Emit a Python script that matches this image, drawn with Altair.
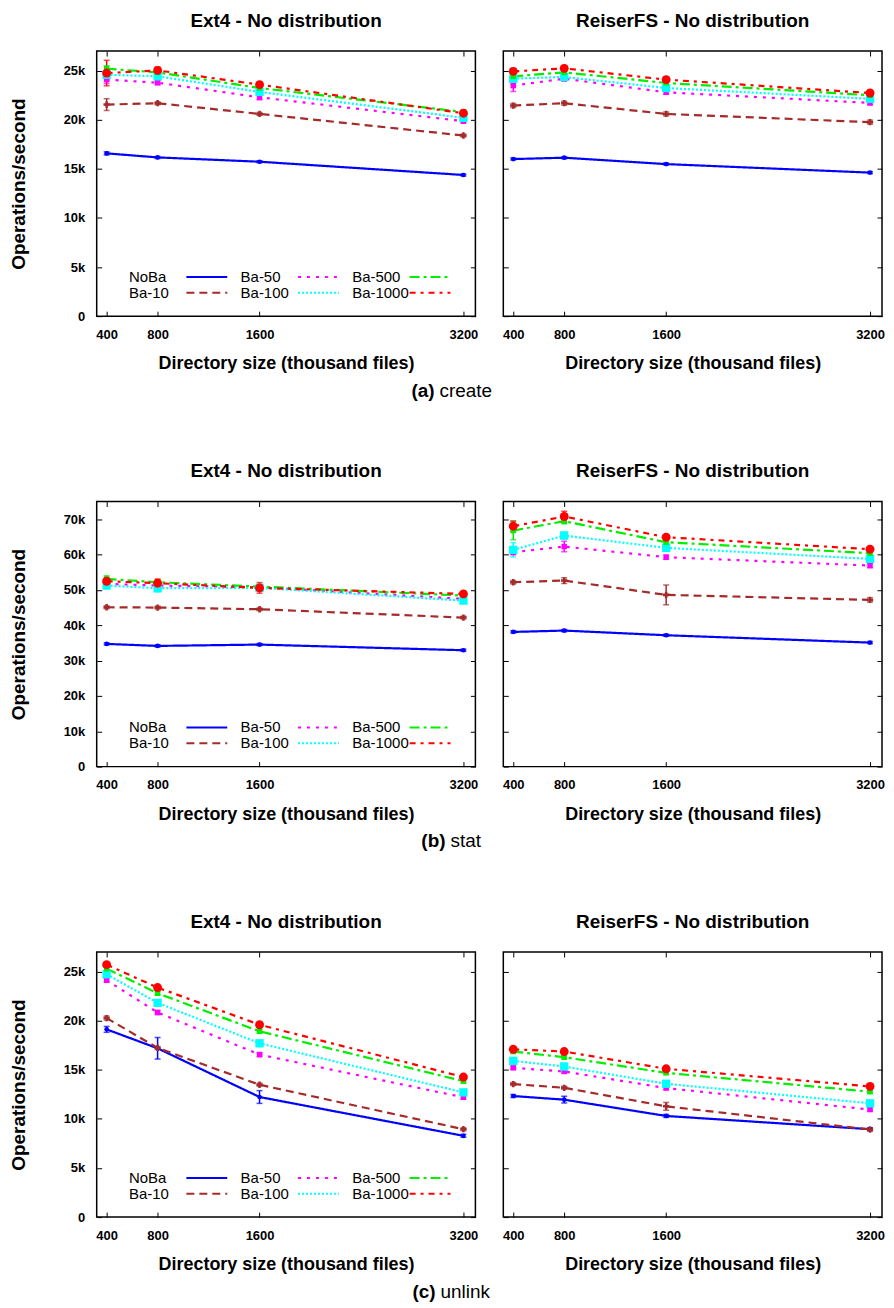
import altair as alt
import pandas as pd

# ---------------- data ----------------
SERIES = ["NoBa", "Ba-10", "Ba-50", "Ba-100", "Ba-500", "Ba-1000"]
LEGEND_ORDER = ["NoBa", "Ba-50", "Ba-500", "Ba-10", "Ba-100", "Ba-1000"]
DIR_SIZES = [400, 800, 1600, 3200]

create_ext4 = [
    [16580, 16170, 15730, 14380],
    [21550, 21690, 20600, 18400],
    [24090, 23780, 22290, 19860],
    [24590, 24430, 22840, 20200],
    [25200, 24830, 23240, 20800],
    [24760, 25030, 23580, 20670],
]
create_ext4_err = [
    [150, 100, 100, 100],
    [600, 150, 150, 150],
    [400, 200, 250, 150],
    [350, 250, 250, 150],
    [300, 200, 200, 150],
    [1300, 350, 250, 200],
]
create_reiser = [
    [16000, 16140, 15490, 14620],
    [21450, 21690, 20600, 19760],
    [23480, 24190, 22800, 21720],
    [24190, 24360, 23240, 22130],
    [24430, 24830, 23750, 22500],
    [24930, 25240, 24090, 22730],
]
create_reiser_err = [
    [100, 100, 100, 100],
    [200, 200, 200, 200],
    [600, 250, 200, 200],
    [400, 300, 200, 200],
    [700, 200, 200, 200],
    [300, 300, 250, 250],
]
stat_ext4 = [
    [34720, 34150, 34530, 32930],
    [45090, 45000, 44530, 42170],
    [51700, 51230, 50760, 47450],
    [51230, 50470, 50570, 46980],
    [53110, 52170, 50940, 48400],
    [52450, 51890, 50570, 48870],
]
stat_ext4_err = [
    [300, 300, 300, 300],
    [400, 400, 400, 400],
    [500, 500, 500, 500],
    [600, 1000, 500, 500],
    [900, 600, 600, 500],
    [800, 1200, 1500, 600],
]
stat_reiser = [
    [38110, 38490, 37170, 35090],
    [52170, 52640, 48590, 47170],
    [60660, 62260, 59250, 56890],
    [61320, 65380, 61890, 58770],
    [66790, 69430, 63490, 60380],
    [68020, 70760, 64910, 61510],
]
stat_reiser_err = [
    [300, 300, 300, 300],
    [500, 800, 2800, 600],
    [700, 1500, 600, 600],
    [2000, 1000, 600, 600],
    [2600, 700, 600, 600],
    [1500, 1500, 700, 600],
]
unlink_ext4 = [
    [19120, 17190, 12230, 8280],
    [20270, 17230, 13480, 8950],
    [24120, 20840, 16550, 12200],
    [24730, 21820, 17700, 12700],
    [25300, 22800, 18920, 13850],
    [25710, 23380, 19590, 14260],
]
unlink_ext4_err = [
    [300, 1100, 650, 150],
    [200, 150, 150, 150],
    [200, 200, 200, 200],
    [200, 200, 200, 200],
    [200, 200, 200, 200],
    [200, 200, 200, 200],
]
unlink_reiser = [
    [12330, 11960, 10300, 8950],
    [13550, 13170, 11280, 8920],
    [15200, 14830, 13140, 10950],
    [15910, 15340, 13580, 11590],
    [16860, 16280, 14690, 12770],
    [17090, 16860, 15100, 13310],
]
unlink_reiser_err = [
    [150, 350, 150, 150],
    [150, 150, 400, 150],
    [150, 150, 150, 150],
    [150, 150, 150, 150],
    [150, 150, 150, 150],
    [150, 150, 150, 150],
]

PANEL_TITLES = ["Ext4 - No distribution", "ReiserFS - No distribution"]
CAPTION_TAGS = ["(a)", "(b)", "(c)"]
CAPTION_OPS = ["create", "stat", "unlink"]
YMAX = [27000, 75000, 27000]
YTICKS = [
    [0, 5000, 10000, 15000, 20000, 25000],
    [0, 10000, 20000, 30000, 40000, 50000, 60000, 70000],
    [0, 5000, 10000, 15000, 20000, 25000],
]
ROWS = [
    ((create_ext4, create_ext4_err), (create_reiser, create_reiser_err)),
    ((stat_ext4, stat_ext4_err), (stat_reiser, stat_reiser_err)),
    ((unlink_ext4, unlink_ext4_err), (unlink_reiser, unlink_reiser_err)),
]

# ---------------- styles ----------------
FONT = "Liberation Sans, Arial, Helvetica, sans-serif"
COLOR = {"NoBa": "#0000ff", "Ba-10": "#a52a2a", "Ba-50": "#ff00ff",
         "Ba-100": "#00ffff", "Ba-500": "#00ee00", "Ba-1000": "#ff0000"}
DASH = {"NoBa": [1, 0], "Ba-10": [8, 5], "Ba-50": [3, 6], "Ba-100": [2, 2],
        "Ba-500": [10, 4, 3, 4], "Ba-1000": [6, 5, 3, 5]}
SHAPE = {"NoBa": "circle", "Ba-10": "cross", "Ba-50": "square",
         "Ba-100": "square", "Ba-500": "square", "Ba-1000": "circle"}
MSIZE = {"NoBa": 22, "Ba-10": 40, "Ba-50": 30, "Ba-100": 70, "Ba-500": 30, "Ba-1000": 80}
PLOT_LEFT = 97                    # page x of the left plot edge
CAPTION_SPLIT = [436, 447, 437]   # page x where the bold tag ends
LEFT_W, RIGHT_W, PH = 380, 380, 266
# legend key sample: a long horizontal line drawn with a small symbol size,
# so that the legend rows stay compact (gnuplot-like key: label, then sample)
KEY_PATH = "M-4,0H4"


def frame(vals, errs):
    rows = []
    for s, vrow, erow in zip(SERIES, vals, errs):
        for size, v, e in zip(DIR_SIZES, vrow, erow):
            rows.append({"series": s, "size": size, "value": v, "lo": v - e, "hi": v + e})
    return pd.DataFrame(rows)


def panel(df, title, ymax, yticks, is_left):
    xs = alt.Scale(domain=[322, 3294], nice=False, zero=False)
    ys = alt.Scale(domain=[0, ymax], nice=False)
    cs = alt.Scale(domain=LEGEND_ORDER, range=[COLOR[s] for s in LEGEND_ORDER])
    ds = alt.Scale(domain=LEGEND_ORDER, range=[DASH[s] for s in LEGEND_ORDER])

    if is_left:
        leg = alt.Legend(orient="none", legendX=103, legendY=219, direction="horizontal",
                         columns=3, title=None, symbolType=KEY_PATH, symbolSize=105,
                         symbolStrokeWidth=2, labelFontSize=15, labelFont=FONT,
                         labelColor="black", labelOffset={"expr": "-85.6"}, columnPadding=9,
                         rowPadding=0, padding=0, labelLimit=200)
        yaxis = alt.Axis(orient="left", values=yticks, offset=-5, tickSize=5, domain=False,
                         grid=False, labelPadding=12, labelFontSize=13, labelFontWeight="bold",
                         labelExpr="datum.value == 0 ? '0' : (datum.value / 1000) + 'k'",
                         title="Operations/second", titleFontSize=19, titleFontWeight="bold",
                         titlePadding=35)
    else:
        leg = None
        yaxis = alt.Axis(orient="left", values=yticks, offset=-5, tickSize=5, domain=False,
                         grid=False, labels=False, title=None, minExtent=0)

    xaxis = alt.Axis(orient="bottom", values=DIR_SIZES, format="d", offset=-5, tickSize=5,
                     domain=False, grid=False, labelPadding=12, labelFontSize=13,
                     labelFontWeight="bold", title="Directory size (thousand files)",
                     titleFontSize=18, titleFontWeight="bold", titlePadding=14)
    xtop = alt.Axis(orient="top", values=DIR_SIZES, offset=-5, tickSize=5, domain=False,
                    grid=False, labels=False, title=None, minExtent=0)
    yright = alt.Axis(orient="right", values=yticks, offset=-5, tickSize=5, domain=False,
                      grid=False, labels=False, title=None, minExtent=0)

    base = alt.Chart(df)
    X0 = alt.X("size:Q", scale=xs, axis=None)
    C0 = alt.Color("series:N", scale=cs, legend=None)

    lines = base.mark_line(strokeWidth=2.2).encode(
        x=alt.X("size:Q", scale=xs, axis=xaxis),
        y=alt.Y("value:Q", scale=ys, axis=yaxis),
        color=alt.Color("series:N", scale=cs, legend=leg),
        strokeDash=alt.StrokeDash("series:N", scale=ds, legend=leg),
    )
    err = base.mark_rule(strokeWidth=1.5).encode(
        x=X0, y=alt.Y("lo:Q", scale=ys, axis=None), y2="hi:Q", color=C0)
    cap_lo = base.mark_tick(orient="horizontal", size=6, thickness=1.5).encode(
        x=X0, y=alt.Y("lo:Q", scale=ys, axis=None), color=C0)
    cap_hi = base.mark_tick(orient="horizontal", size=6, thickness=1.5).encode(
        x=X0, y=alt.Y("hi:Q", scale=ys, axis=None), color=C0)
    # mirror ticks (top / right), drawn by an invisible copy of the points
    mirror = base.mark_point(opacity=0).encode(
        x=alt.X("size:Q", scale=xs, axis=xtop),
        y=alt.Y("value:Q", scale=ys, axis=yright),
    )
    layers = [lines, err, cap_lo, cap_hi, mirror]
    for s in SERIES:
        layers.append(
            base.transform_filter(alt.datum.series == s).mark_point(
                shape=SHAPE[s], size=MSIZE[s], filled=True, opacity=1
            ).encode(x=X0, y=alt.Y("value:Q", scale=ys, axis=None), color=C0)
        )
    return alt.layer(*layers).resolve_axis(
        x="independent", y="independent"
    ).properties(
        width=LEFT_W if is_left else RIGHT_W,
        height=PH,
        title=alt.Title(title, frame="group", fontSize=19, fontWeight="bold", font=FONT,
                        offset=20, color="black"),
        view=alt.ViewBackground(stroke="black", strokeWidth=1.5),
    )


def caption(i):
    d = pd.DataFrame({"tag": [CAPTION_TAGS[i]], "op": [CAPTION_OPS[i]]})
    split = CAPTION_SPLIT[i] - PLOT_LEFT
    b = alt.Chart(d)
    t1 = b.mark_text(align="right", baseline="middle", fontSize=19, fontWeight="bold",
                     font=FONT, color="black").encode(
        text="tag:N", x=alt.value(split), y=alt.value(12))
    t2 = b.mark_text(align="left", baseline="middle", fontSize=19, fontWeight="normal",
                     font=FONT, color="black").encode(
        text="op:N", x=alt.value(split + 5), y=alt.value(12))
    return alt.layer(t1, t2).properties(width=600, height=24,
                                        view=alt.ViewBackground(stroke="transparent"))


RES = dict(color="independent", strokeDash="independent")

rows = []
for i, ((v1, e1), (v2, e2)) in enumerate(ROWS):
    left = panel(frame(v1, e1), PANEL_TITLES[0], YMAX[i], YTICKS[i], True)
    right = panel(frame(v2, e2), PANEL_TITLES[1], YMAX[i], YTICKS[i], False)
    pair = alt.hconcat(left, right, spacing=22).resolve_scale(**RES)
    rows.append(alt.vconcat(pair, caption(i), spacing=4).resolve_scale(**RES))

chart = alt.vconcat(*rows, spacing=57).resolve_scale(**RES).properties(
    padding=0
).configure(font=FONT).configure_view(stroke="transparent").configure_axis(
    labelFont=FONT, titleFont=FONT, labelColor="black", titleColor="black",
    tickColor="black", tickWidth=1
).configure_legend(labelFont=FONT)

chart.save("out.html", embed_options={"renderer": "svg", "actions": False})
